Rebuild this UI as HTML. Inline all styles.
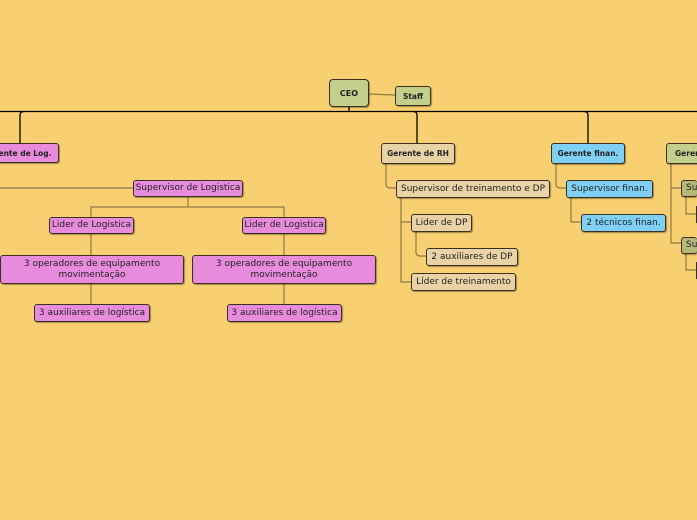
<!DOCTYPE html>
<html><head><meta charset="utf-8"><style>
html,body{margin:0;padding:0;overflow:hidden}
#w{width:697px;height:520px;overflow:hidden;background:#f9d071;position:relative;font-family:"DejaVu Sans","Liberation Sans",sans-serif;}
.n{position:absolute;box-sizing:border-box;border:1px solid #3a3020;border-radius:3px;display:flex;align-items:center;justify-content:center;text-align:center;font-size:9px;color:#222;box-shadow:1px 1px 1px rgba(0,0,0,.35);line-height:11px;white-space:nowrap;overflow:hidden}
.b{font-weight:bold;font-size:7.5px}
.p{background:#e88bdc}.t{background:#e9d3a6}.u{background:#80d0f5}.g{background:#c3d08c}.g2{background:#b4b97a}
svg{position:absolute;left:0;top:0}
</style></head><body><div id="w">
<svg width="697" height="520" fill="none">
<g stroke="#000" stroke-width="1.3">
<path d="M0 111.5H697"/><path d="M349 106V111"/>
<path d="M20 143V115Q20 111.5 24 111.5"/>
<path d="M417 143V115Q417 111.5 413 111.5"/>
<path d="M588 143V115Q588 111.5 584 111.5"/>
</g>
<g stroke="#8f7a45" stroke-width="1.2">
<path d="M368 94L395 95"/>
<path d="M0 188H133"/>
<path d="M188 196V207M91 217V207H284V217"/>
<path d="M91 234V255M91 283V304M284 234V255M284 283V304"/>
<path d="M386 163V184Q386 188 390 188H396"/>
<path d="M401 197V282H411M401 222H411"/>
<path d="M416 231V252Q416 256 420 256H426"/>
<path d="M556 163V184Q556 188 560 188H566"/>
<path d="M571 197V222H581"/>
<path d="M671 163V243H681M671 188H681"/>
<path d="M686 197V214H697M686 253V270H697"/>
</g>
</svg>
<div class="n g b" style="left:329px;top:79px;width:40px;height:28px;border-width:1.5px;border-radius:4px;font-size:8px">CEO</div>
<div class="n g b" style="left:395px;top:86px;width:36px;height:20px">Staff</div>
<div class="n p b" style="left:-24px;top:143px;width:83px;height:20px">Gerente de Log.</div>
<div class="n t b" style="left:381px;top:143px;width:74px;height:21px">Gerente de RH</div>
<div class="n u b" style="left:551px;top:143px;width:74px;height:21px">Gerente finan.</div>
<div class="n g b" style="left:666px;top:143px;width:31px;height:21px;justify-content:flex-start;padding-left:8px;border-right:none;border-radius:3px 0 0 3px">Gerente</div>
<div class="n p" style="left:133px;top:180px;width:110px;height:17px">Supervisor de Logistica</div>
<div class="n p" style="left:49px;top:217px;width:85px;height:17px">Lider de Logistica</div>
<div class="n p" style="left:242px;top:217px;width:84px;height:17px">Lider de Logistica</div>
<div class="n p" style="left:0px;top:255px;width:184px;height:29px;white-space:normal">3 operadores de equipamento<br>movimentação</div>
<div class="n p" style="left:192px;top:255px;width:184px;height:29px;white-space:normal">3 operadores de equipamento<br>movimentação</div>
<div class="n p" style="left:34px;top:304px;width:116px;height:18px">3 auxiliares de logística</div>
<div class="n p" style="left:227px;top:304px;width:115px;height:18px">3 auxiliares de logística</div>
<div class="n t" style="left:396px;top:180px;width:154px;height:18px">Supervisor de treinamento e DP</div>
<div class="n t" style="left:411px;top:214px;width:61px;height:18px">Lider de DP</div>
<div class="n t" style="left:426px;top:248px;width:92px;height:18px">2 auxiliares de DP</div>
<div class="n t" style="left:411px;top:273px;width:105px;height:18px">Líder de treinamento</div>
<div class="n u" style="left:566px;top:180px;width:87px;height:18px">Supervisor finan.</div>
<div class="n u" style="left:581px;top:214px;width:85px;height:18px">2 técnicos finan.</div>
<div class="n g2" style="left:681px;top:180px;width:16px;height:17px;justify-content:flex-start;padding-left:4px;border-right:none">Su</div>
<div class="n g2" style="left:681px;top:237px;width:16px;height:17px;justify-content:flex-start;padding-left:4px;border-right:none">Su</div>
<div class="n g2" style="left:696px;top:206px;width:1px;height:17px;border-right:none"></div>
<div class="n g2" style="left:696px;top:262px;width:1px;height:17px;border-right:none"></div>
</div></body></html>
